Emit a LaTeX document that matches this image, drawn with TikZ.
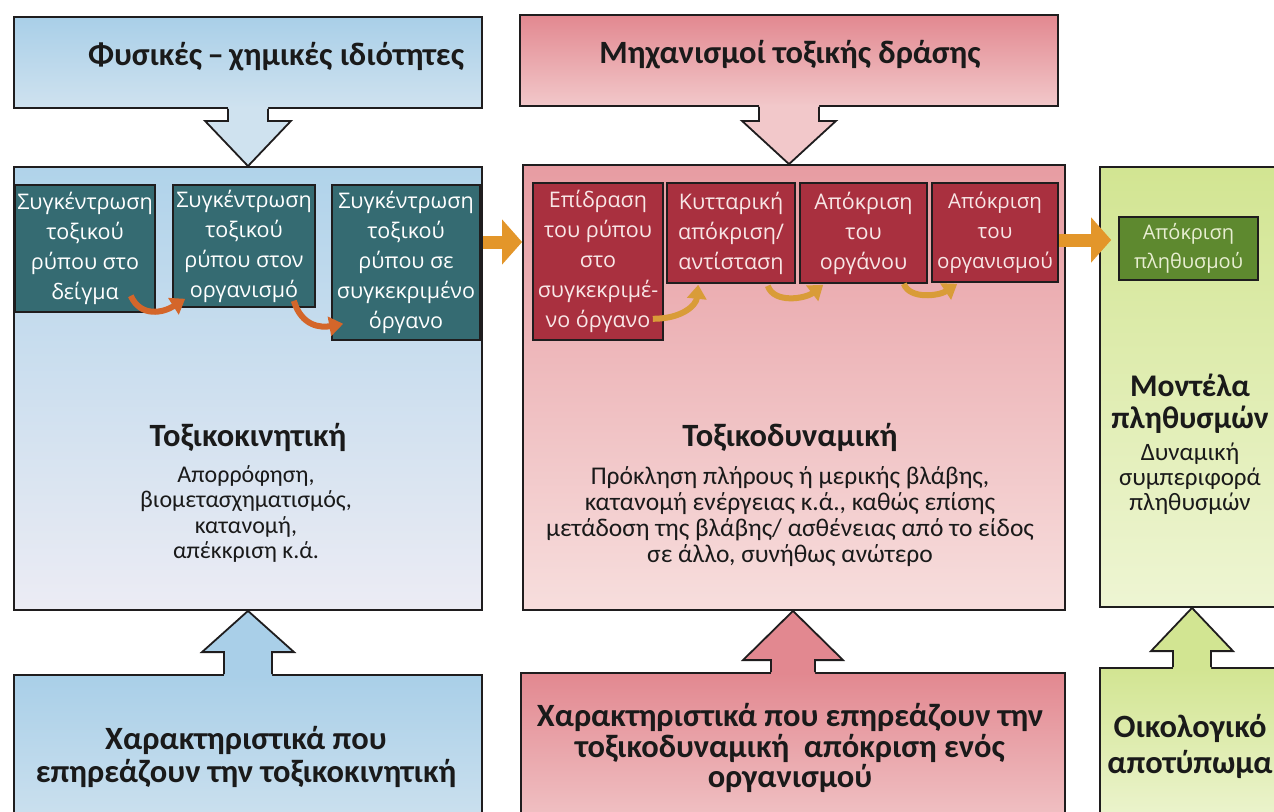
\documentclass[tikz,border=0pt]{standalone}
\usepackage{fontspec}
\setmainfont{Carlito}
\newfontfamily\boxfont{Open Sans}
\usetikzlibrary{arrows.meta,calc}

\definecolor{edge}{HTML}{1F1D1E}
\definecolor{ink}{HTML}{1A1A1A}
\definecolor{blueTop}{HTML}{A9CFE8}
\definecolor{blueLow}{HTML}{CFE2EF}
\definecolor{blueMainTop}{HTML}{B0D3EA}
\definecolor{blueMainLow}{HTML}{ECECF4}
\definecolor{tealNode}{HTML}{356B72}
\definecolor{redTop}{HTML}{E28890}
\definecolor{redLow}{HTML}{F2C8CA}
\definecolor{redMainTop}{HTML}{E79CA2}
\definecolor{redMainLow}{HTML}{F7DEDD}
\definecolor{redNode}{HTML}{A9303F}
\definecolor{redText}{HTML}{F8E6E6}
\definecolor{greenTop}{HTML}{D2E592}
\definecolor{greenLow}{HTML}{EEF5D3}
\definecolor{greenNode}{HTML}{5E892F}
\definecolor{greenText}{HTML}{E8EED2}
\definecolor{flow}{HTML}{E3962A}
\definecolor{flowDeep}{HTML}{D4662A}
\definecolor{flowGold}{HTML}{D99C38}

\tikzset{
  panel/.style={draw=edge, line width=1.8pt, inner sep=0pt},
  stage/.style={draw=edge, line width=1.6pt, inner sep=0pt, align=center,
    font=\boxfont\fontsize{21.5}{30}\selectfont},
  title/.style={text=ink, font=\bfseries\fontsize{32.5}{33}\selectfont, align=center, inner sep=0pt},
  body/.style={text=ink, font=\fontsize{24}{25.5}\selectfont, align=center, inner sep=0pt},
  outline/.style={draw=edge, line width=1.8pt, line join=miter},
  bar/.style={draw=flow, line width=13pt, -{Triangle[length=20pt,width=44pt]}},
  hook/.style={line width=6pt, -{Triangle[length=14pt,width=19pt]}},
}

\begin{document}
\begin{tikzpicture}[x=1pt,y=-1pt]
\useasboundingbox (0,0) rectangle (1274,811);
\begin{scope}
\clip (0,0) rectangle (1274,811);

% ---------- panels ----------
\node[panel, minimum width=468pt, minimum height=91pt, top color=blueTop, bottom color=blueLow] (tb) at (248,62.5) {};
\node[panel, minimum width=468pt, minimum height=443pt, top color=blueMainTop, bottom color=blueMainLow] (mb) at (248,388.5) {};
\node[panel, minimum width=468pt, minimum height=160pt, top color=blueTop, bottom color=blueLow] (bb) at (248,755) {};

\node[panel, minimum width=538pt, minimum height=91pt, top color=redTop, bottom color=redLow] (tr) at (789,60.5) {};
\node[panel, minimum width=542pt, minimum height=445pt, top color=redMainTop, bottom color=redMainLow] (mr) at (794,387.5) {};
\node[panel, minimum width=544pt, minimum height=164pt, top color=redTop, bottom color=redLow] (br) at (793,755) {};

\node[panel, minimum width=184pt, minimum height=440pt, top color=greenTop, bottom color=greenLow] (mg) at (1192,387) {};
\node[panel, minimum width=184pt, minimum height=164pt, top color=greenTop, bottom color=greenLow] (bg) at (1192,750) {};

% ---------- block arrows between panels ----------
\fill[blueLow] ($(tb.south)+(-20,-2)$) -- ++(0,14) -- ++(-23,0) -- (mb.north) -- ($(tb.south)+(43,12)$) -- ++(-23,0) -- ++(0,-14) -- cycle;
\draw[outline] ($(tb.south)+(-20,0)$) -- ++(0,12) -- ++(-23,0) -- (mb.north) -- ($(tb.south)+(43,12)$) -- ++(-23,0) -- ++(0,-12);

\fill[redLow] ($(tr.south)+(-30,-2)$) -- ++(0,16) -- ++(-17,0) -- (tr.south |- mr.north) -- ($(tr.south)+(47,14)$) -- ++(-17,0) -- ++(0,-16) -- cycle;
\draw[outline] ($(tr.south)+(-30,0)$) -- ++(0,14) -- ++(-17,0) -- (tr.south |- mr.north) -- ($(tr.south)+(47,14)$) -- ++(-17,0) -- ++(0,-14);

\fill[blueTop] ($(bb.north)+(-24,2)$) -- ++(0,-24) -- ++(-22,0) -- (mb.south) -- ($(bb.north)+(46,-22)$) -- ++(-22,0) -- ++(0,24) -- cycle;
\draw[outline] ($(bb.north)+(-24,0)$) -- ++(0,-22) -- ++(-22,0) -- (mb.south) -- ($(bb.north)+(46,-22)$) -- ++(-22,0) -- ++(0,22);

\fill[redTop] ($(br.north)+(-22,2)$) -- ++(0,-14) -- ++(-28,0) -- (br.north |- mr.south) -- ($(br.north)+(50,-12)$) -- ++(-28,0) -- ++(0,14) -- cycle;
\draw[outline] ($(br.north)+(-22,0)$) -- ++(0,-12) -- ++(-28,0) -- (br.north |- mr.south) -- ($(br.north)+(50,-12)$) -- ++(-28,0) -- ++(0,12);

\fill[greenTop] ($(bg.north)+(-19,2)$) -- ++(0,-18) -- ++(-22,0) -- (mg.south) -- ($(bg.north)+(41,-16)$) -- ++(-22,0) -- ++(0,18) -- cycle;
\draw[outline] ($(bg.north)+(-19,0)$) -- ++(0,-16) -- ++(-22,0) -- (mg.south) -- ($(bg.north)+(41,-16)$) -- ++(-22,0) -- ++(0,16);

% ---------- panel texts ----------
\node[title] (tbt) at (276,57) {Φυσικές\,–\,χημικές ιδιότητες};
\node[title] (trt) at (790,55) {Μηχανισμοί τοξικής δράσης};

\node[title] (mbt) at (248,437) {Τοξικοκινητική};
\node[body] (mbs) at (246,514) {Απορρόφηση,\\βιομετασχηματισμός,\\κατανομή,\\απέκκριση κ.ά.};
\node[title] (mrt) at (790,437) {Τοξικοδυναμική};
\node[body, font=\fontsize{25.5}{26}\selectfont] (mrs) at (790,517) {Πρόκληση πλήρους ή μερικής βλάβης,\\κατανομή ενέργειας κ.ά., καθώς επίσης\\μετάδοση της βλάβης/ ασθένειας από το είδος\\σε άλλο, συνήθως ανώτερο};
\node[title, font=\bfseries\fontsize{31.5}{32}\selectfont] (mgt) at (1190,404) {Μοντέλα\\πληθυσμών};
\node[body, font=\fontsize{25}{25}\selectfont] (mgs) at (1190,479) {Δυναμική\\συμπεριφορά\\πληθυσμών};

\node[title] (bbt) at (246,757) {Χαρακτηριστικά που\\επηρεάζουν την τοξικοκινητική};
\node[title, font=\bfseries\fontsize{32.5}{30.5}\selectfont] (brt) at (790,748) {Χαρακτηριστικά που επηρεάζουν την\\τοξικοδυναμική\ \ απόκριση ενός\\οργανισμού};
\node[title, font=\bfseries\fontsize{32.5}{36}\selectfont] (bgt) at (1190,746) {Οικολογικό\\αποτύπωμα};

% ---------- stages: toxicokinetics ----------
\node[stage, fill=tealNode, text=white, minimum width=140pt, minimum height=127pt] (n1) at (85,248.5)
  {Συγκέντρωση\\τοξικού\\ρύπου στο\\δείγμα};
\node[stage, fill=tealNode, text=white, minimum width=142pt, minimum height=122pt] (n2) at (244,246)
  {Συγκέντρωση\\τοξικού\\ρύπου στον\\οργανισμό};
\node[stage, fill=tealNode, text=white, minimum width=148pt, minimum height=155pt] (n3) at (406,262.5)
  {Συγκέντρωση\\τοξικού\\ρύπου σε\\συγκεκριμένο\\όργανο};

% ---------- stages: toxicodynamics ----------
\node[stage, fill=redNode, text=redText, minimum width=130pt, minimum height=157pt] (r1) at (598,261.5)
  {Επίδραση\\του ρύπου\\στο\\συγκεκριμέ-\\νο όργανο};
\node[stage, fill=redNode, text=redText, minimum width=128pt, minimum height=100pt] (r2) at (731,233)
  {Κυτταρική\\απόκριση/\\αντίσταση};
\node[stage, fill=redNode, text=redText, minimum width=127pt, minimum height=100pt] (r3) at (863.5,233)
  {Απόκριση\\του\\οργάνου};
\node[stage, fill=redNode, text=redText, minimum width=126pt, minimum height=99pt,
      font=\boxfont\fontsize{20.5}{30}\selectfont] (r4) at (995,232.5)
  {Απόκριση\\του\\οργανισμού};

% ---------- stage: population ----------
\node[stage, fill=greenNode, text=greenText, minimum width=139pt, minimum height=63pt,
      font=\boxfont\fontsize{20}{29}\selectfont] (g1) at (1188.5,248.5)
  {Απόκριση\\πληθυσμού};

% ---------- flow arrows ----------
\coordinate (k1) at (0,242);
\draw[bar] (mb.east |- k1) -- (mr.west |- k1);
\coordinate (k2) at (0,240);
\draw[bar, shorten >=7pt] (r4.east |- k2) -- (g1.west |- k2);

\draw[hook, flowDeep] ($(n1.south east)+(-25,-17)$) .. controls +(10,22) and +(-22,14) .. ($(n2.south west)+(13,-9)$);
\draw[hook, flowDeep] ($(n2.south east)+(-22,-7)$) .. controls +(8,26) and +(-22,4) .. ($(n3.south west)+(12,-17)$);

\draw[hook, flowGold] ($(r1.south east)+(-11,-22)$) .. controls +(30,0) and +(-2,20) .. ($(r2.south west)+(32,1)$);
\draw[hook, flowGold] ($(r2.south east)+(-28,2)$) .. controls +(6,18) and +(-18,14) .. ($(r3.south west)+(24,1)$);
\draw[hook, flowGold] ($(r3.south east)+(-24,0)$) .. controls +(6,16) and +(-18,12) .. ($(r4.south west)+(26,1)$);

\end{scope}
\end{tikzpicture}
\end{document}
